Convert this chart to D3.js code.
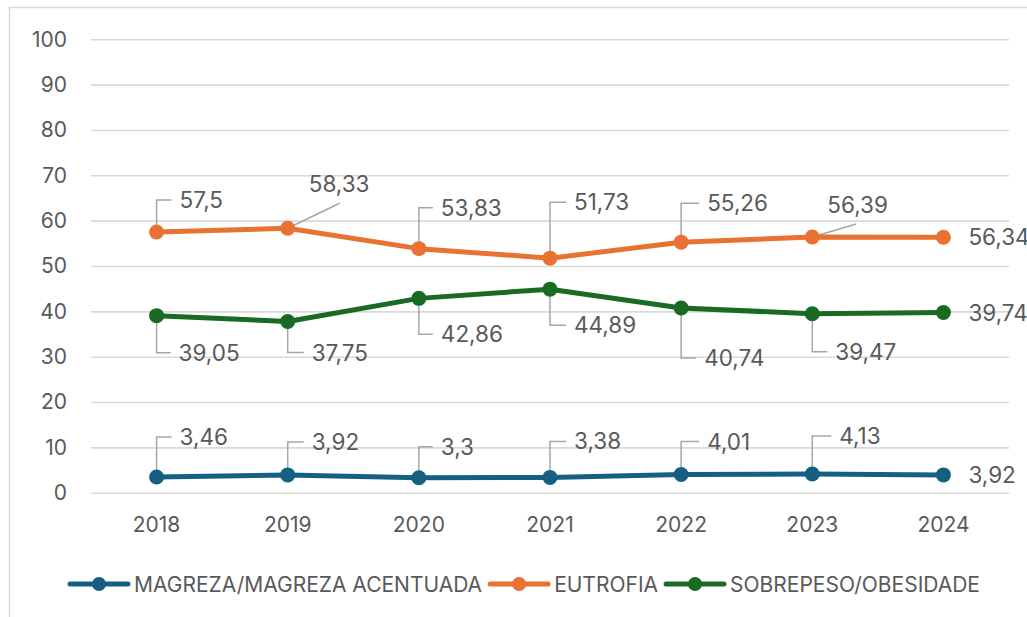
<!DOCTYPE html>
<html>
<head>
<meta charset="utf-8">
<script src="https://cdn.jsdelivr.net/npm/d3@7"></script>
<style>
  body { margin: 0; background: #fff; }
  svg text { font-family: "Inter", "DejaVu Sans", sans-serif; fill: #595959; }
</style>
</head>
<body>
<svg id="chart" width="1027" height="617"></svg>
<script>
// data
var years = ["2018", "2019", "2020", "2021", "2022", "2023", "2024"];
var seriesNames = ["MAGREZA/MAGREZA ACENTUADA", "EUTROFIA", "SOBREPESO/OBESIDADE"];
var magreza = [3.46, 3.92, 3.3, 3.38, 4.01, 4.13, 3.92];
var eutrofia = [57.5, 58.33, 53.83, 51.73, 55.26, 56.39, 56.34];
var sobrepeso = [39.05, 37.75, 42.86, 44.89, 40.74, 39.47, 39.74];
var yTicks = [0, 10, 20, 30, 40, 50, 60, 70, 80, 90, 100];

var colors = ["#156082", "#e97132", "#196b24"];

// where each data label sits relative to its point (text left, text middle), and its leader
// "e" = elbow leader, array = straight leader end, null = none
var labelPos = [
  [[23, -40, "e"], [24, -33, "e"], [22, -31, "e"], [24, -36, "e"], [26, -33, "e"], [27, -38, "e"], [25, 0, null]],
  [[23, -32, "e"], [21, -44, [52, -25]], [22, -41, "e"], [24, -56, "e"], [26, -39, "e"], [15, -32, [44, -13]], [25, 0, null]],
  [[22, 37, "e"], [24, 31, "e"], [22, 36, "e"], [24, 36, "e"], [23, 50, "e"], [23, 38, "e"], [25, 0, null]]
];

var svg = d3.select("#chart");
var left = 91, right = 1009;

var x = d3.scaleBand().domain(years).range([left, right]);
var y = d3.scaleLinear().domain([0, 100]).range([492.7, 39.3]);
var cx = function(d){ return x(d) + x.bandwidth() / 2; };

function fmt(v){ return String(v).replace(".", ","); }

// outer frame
svg.append("rect")
  .attr("x", 9.5).attr("y", 7.5)
  .attr("width", 1200).attr("height", 800)
  .attr("fill", "none").attr("stroke", "#d9d9d9").attr("stroke-width", 1.5);

// gridlines + y labels
var yAxis = svg.append("g")
  .attr("transform", "translate(" + left + ",0)")
  .call(d3.axisLeft(y).tickValues(yTicks).tickSize(-(right - left)).tickPadding(24));
yAxis.select(".domain").remove();
yAxis.selectAll("line").attr("stroke", "#d9d9d9").attr("stroke-width", 1.6);
yAxis.selectAll("text").style("font-size", "21px").attr("fill", "#595959");

// x labels
var xAxis = svg.append("g")
  .attr("transform", "translate(0," + y(0) + ")")
  .call(d3.axisBottom(x).tickSize(0).tickPadding(24));
xAxis.select(".domain").remove();
xAxis.selectAll("text").style("font-size", "21px").attr("fill", "#595959");

var all = [magreza, eutrofia, sobrepeso];

// leader lines first so markers sit on top
all.forEach(function(vals, s){
  vals.forEach(function(v, i){
    var p = labelPos[s][i];
    var px = cx(years[i]), py = y(v);
    if (p[2] === "e") {
      svg.append("polyline")
        .attr("points", [[px, py], [px, py + p[1]], [px + p[0] - 8, py + p[1]]].map(function(q){ return q.join(","); }).join(" "))
        .attr("fill", "none").attr("stroke", "#a6a6a6").attr("stroke-width", 1.5);
    } else if (p[2]) {
      svg.append("line")
        .attr("x1", px).attr("y1", py)
        .attr("x2", px + p[2][0]).attr("y2", py + p[2][1])
        .attr("stroke", "#a6a6a6").attr("stroke-width", 1.5);
    }
  });
});

var line = d3.line()
  .x(function(d, i){ return cx(years[i]); })
  .y(function(d){ return y(d); });

all.forEach(function(vals, s){
  svg.append("path")
    .datum(vals)
    .attr("d", line)
    .attr("fill", "none")
    .attr("stroke", colors[s])
    .attr("stroke-width", 5)
    .attr("stroke-linejoin", "round")
    .attr("stroke-linecap", "round");

  svg.selectAll(".pt" + s)
    .data(vals)
    .enter().append("circle")
    .attr("class", "pt" + s)
    .attr("cx", function(d, i){ return cx(years[i]); })
    .attr("cy", function(d){ return y(d); })
    .attr("r", 7.5)
    .attr("fill", colors[s]);

  svg.selectAll(".lb" + s)
    .data(vals)
    .enter().append("text")
    .attr("class", "lb" + s)
    .attr("x", function(d, i){ return cx(years[i]) + labelPos[s][i][0]; })
    .attr("y", function(d, i){ return y(d) + labelPos[s][i][1]; })
    .attr("dy", "0.36em")
    .style("font-size", "22.5px")
    .text(function(d){ return fmt(d); });
});

// legend
var leg = svg.append("g").attr("transform", "translate(0,584)");
var lx = 70;
seriesNames.forEach(function(name, s){
  leg.append("line")
    .attr("x1", lx).attr("x2", lx + 58)
    .attr("stroke", colors[s]).attr("stroke-width", 5)
    .attr("stroke-linecap", "round");
  leg.append("circle")
    .attr("cx", lx + 29).attr("r", 7)
    .attr("fill", colors[s]);
  var t = leg.append("text")
    .attr("x", lx + 64)
    .attr("dy", "0.36em")
    .style("font-size", "21px")
    .text(name);
  lx = lx + 64 + t.node().getComputedTextLength() + 8;
});
</script>
</body>
</html>
